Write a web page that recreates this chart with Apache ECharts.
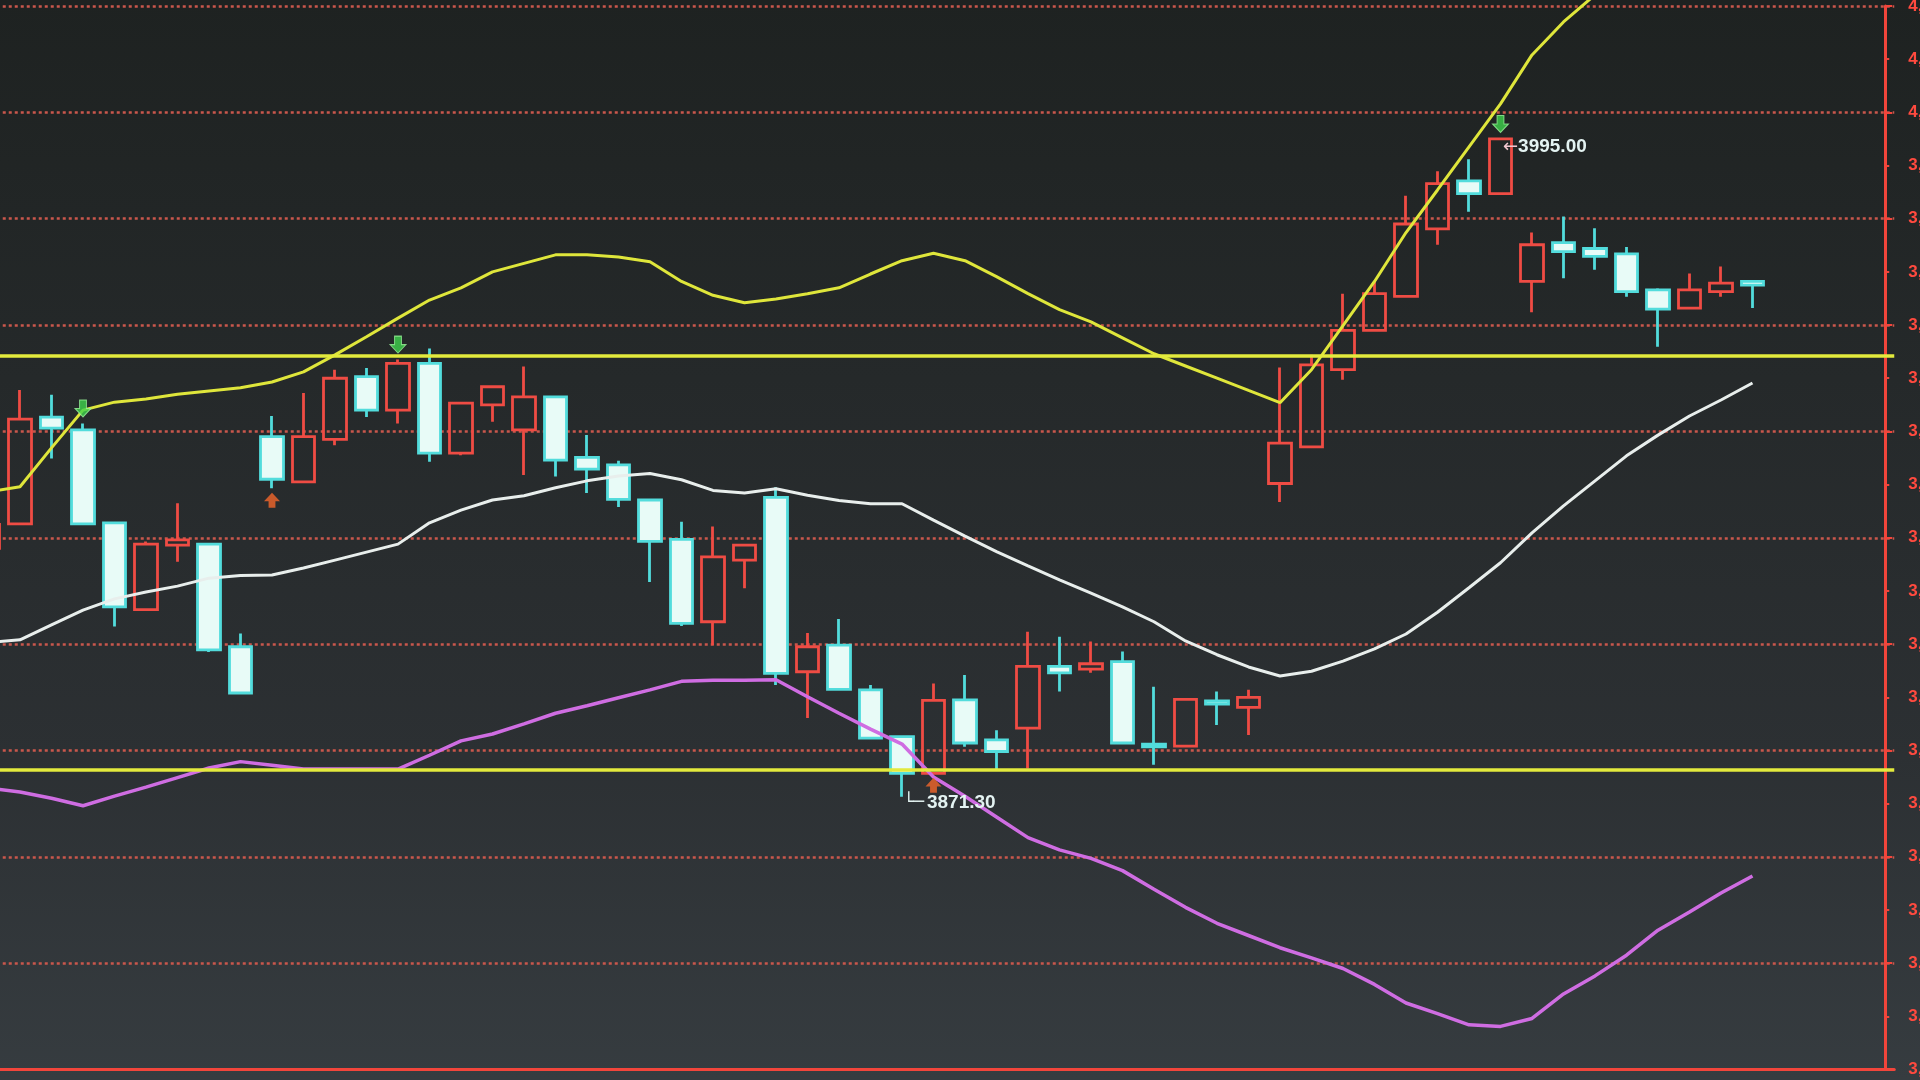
<!DOCTYPE html>
<html><head><meta charset="utf-8">
<script src="https://cdn.jsdelivr.net/npm/echarts@6/dist/echarts.min.js"></script>
<style>
html,body{margin:0;padding:0;width:1920px;height:1080px;overflow:hidden;background:#26292b;}
#c{width:1920px;height:1080px;background:linear-gradient(180deg,#1e2221 0%,#25292a 35%,#2c3033 70%,#363c40 100%);}
</style></head><body><div id="c"></div>
<script>
// category slots (no visible x labels); slot 0 is the partially visible bar at the left edge
const categories = Array.from({length: 61}, (_, i) => String(i + 1));

// candles: [open, close, low, high]
const ohlc = [
  [3918.0,3922.5,3916.0,3925.0],
  [3922.6,3942.3,3922.6,3947.8],
  [3942.7,3940.6,3934.9,3946.9],
  [3940.3,3922.6,3922.6,3941.5],
  [3922.8,3907.0,3903.3,3922.8],
  [3906.5,3918.8,3906.5,3919.3],
  [3918.6,3919.6,3915.5,3926.5],
  [3918.8,3898.9,3898.5,3918.8],
  [3899.5,3890.8,3890.8,3902.0],
  [3939.0,3931.0,3929.3,3942.9],
  [3930.5,3939.0,3930.5,3947.2],
  [3938.5,3950.0,3937.4,3951.6],
  [3950.3,3944.0,3942.7,3951.9],
  [3944.0,3952.8,3941.5,3953.5],
  [3952.8,3935.9,3934.3,3955.6],
  [3935.9,3945.3,3935.5,3945.3],
  [3945.0,3948.4,3941.8,3948.4],
  [3940.3,3946.5,3931.8,3952.2],
  [3946.5,3934.6,3931.5,3946.5],
  [3935.1,3932.9,3928.4,3939.3],
  [3933.7,3927.2,3925.8,3934.5],
  [3927.1,3919.3,3911.7,3927.1],
  [3919.7,3903.9,3903.4,3923.0],
  [3904.2,3916.4,3899.8,3922.1],
  [3915.8,3918.6,3910.5,3918.6],
  [3927.6,3894.5,3892.3,3929.5],
  [3894.8,3899.5,3886.1,3902.1],
  [3899.8,3891.5,3891.5,3904.7],
  [3891.4,3882.3,3882.3,3892.3],
  [3882.6,3875.7,3871.3,3882.6],
  [3875.7,3889.4,3875.7,3892.6],
  [3889.5,3881.4,3880.7,3894.2],
  [3882.0,3879.8,3876.3,3883.8],
  [3884.2,3895.8,3876.6,3902.3],
  [3895.8,3894.6,3891.1,3901.4],
  [3895.3,3896.3,3894.6,3900.5],
  [3896.7,3881.4,3881.4,3898.6],
  [3881.2,3880.7,3877.3,3892.0],
  [3880.8,3889.6,3880.8,3889.6],
  [3889.3,3888.7,3884.8,3891.1],
  [3888.1,3890.0,3882.9,3891.4],
  [3930.2,3937.8,3926.7,3952.0],
  [3937.1,3952.5,3937.1,3954.4],
  [3951.6,3959.0,3949.7,3965.9],
  [3959.0,3965.9,3959.0,3968.2],
  [3965.4,3979.0,3965.4,3984.3],
  [3978.1,3986.6,3975.1,3988.9],
  [3987.1,3984.7,3981.3,3991.2],
  [3984.7,3995.0,3984.7,3995.0],
  [3968.2,3975.1,3962.4,3977.4],
  [3975.5,3973.8,3968.8,3980.4],
  [3974.4,3972.9,3970.4,3978.2],
  [3973.4,3966.3,3965.3,3974.7],
  [3966.6,3963.0,3955.9,3966.9],
  [3963.2,3966.6,3963.2,3969.7],
  [3966.3,3967.9,3965.3,3971.0],
  [3968.2,3967.5,3963.2,3968.2]
];

// Bollinger bands
const upperBand = [3928.6,3929.6,3936.9,3944.0,3945.5,3946.1,3947.0,3947.6,3948.2,3949.3,3951.2,3954.4,3957.8,3961.3,3964.7,3967.0,3970.0,3971.6,3973.2,3973.2,3972.8,3971.9,3968.2,3965.6,3964.2,3964.9,3965.9,3967.0,3969.6,3972.1,3973.5,3972.1,3969.1,3965.9,3962.9,3960.6,3957.6,3954.6,3952.3,3950.0,3947.7,3945.4,3951.6,3959.9,3968.2,3977.4,3985.4,3993.5,4001.6,4010.8,4017.0,4022.1,4025.8,4029.0,4031.5,4033.4,4034.7];
const midBand = [3900.3,3900.8,3903.6,3906.4,3908.5,3909.8,3910.9,3912.4,3912.9,3913.0,3914.3,3915.8,3917.3,3918.8,3922.8,3925.2,3927.1,3927.9,3929.4,3930.7,3931.6,3932.1,3930.9,3928.9,3928.4,3929.2,3928.0,3927.0,3926.4,3926.4,3923.3,3920.3,3917.4,3914.7,3912.1,3909.6,3907.0,3904.2,3900.6,3898.0,3895.7,3894.0,3894.9,3896.8,3899.1,3901.9,3906.0,3910.6,3915.3,3920.9,3926.0,3930.7,3935.4,3939.3,3942.9,3945.9,3949.1];
const lowerBand = [3872.9,3872.2,3871.0,3869.6,3871.4,3873.1,3874.9,3876.7,3877.9,3877.2,3876.5,3876.5,3876.5,3876.5,3879.1,3881.8,3883.1,3885.0,3887.0,3888.4,3889.9,3891.4,3893.0,3893.2,3893.2,3893.3,3890.1,3887.0,3884.0,3881.2,3875.0,3871.4,3867.5,3863.6,3861.3,3859.7,3857.4,3853.9,3850.5,3847.5,3845.2,3842.9,3841.0,3839.0,3836.0,3832.5,3830.5,3828.4,3828.1,3829.6,3834.2,3837.6,3841.5,3846.2,3849.6,3853.2,3856.4];

// signal arrows (category slot indices)
const sellSignals = [3, 13, 48];
const buySignals = [9, 30];
// horizontal support / resistance lines
const hLines = [3954.2, 3876.3];
// extreme price tags
const highTag = {idx: 48, value: 3995.00};
const lowTag = {idx: 29, value: 3871.30};
// price axis
const yMin = 3820, yMax = 4020, gridStep = 20, labelStep = 10;

const RED = '#ef4c44', CYAN = '#52dcdc', AXIS = '#f2453b';
const chart = echarts.init(document.getElementById('c'), null, {renderer: 'canvas'});

const downArrow = 'path://M4,0 L10,0 L10,8 L14,8 L7,16 L0,8 L4,8 Z';
const upArrow = 'path://M7,0 L14,8 L10,8 L10,14 L4,14 L4,8 L0,8 Z';

chart.setOption({
  backgroundColor: 'transparent',
  animation: false,
  grid: {left: -27.25, right: 25.75, top: 6, bottom: 10.5, containLabel: false, outerBoundsMode: 'none'},
  xAxis: {
    type: 'category', data: categories, boundaryGap: true,
    axisLine: {show: true, onZero: false, lineStyle: {color: AXIS, width: 3}},
    axisTick: {show: false}, axisLabel: {show: false}, splitLine: {show: false}
  },
  yAxis: [
    {
      type: 'value', position: 'right', offset: -9, min: yMin, max: yMax, interval: gridStep,
      axisLine: {show: true, lineStyle: {color: AXIS, width: 3}},
      axisTick: {show: true, length: 7, lineStyle: {color: AXIS, width: 2}},
      axisLabel: {show: false},
      splitLine: {show: true, lineStyle: {color: '#c9574c', width: 2.5, type: [3, 3]}}
    },
    {
      type: 'value', position: 'right', offset: -9, min: yMin, max: yMax, interval: labelStep,
      axisLine: {show: false},
      axisTick: {show: true, length: 4, lineStyle: {color: AXIS, width: 2}},
      axisLabel: {show: true, margin: 23, color: '#ff4a3f', fontSize: 17, fontWeight: 'bold', fontFamily: 'Liberation Sans'},
      splitLine: {show: false}
    }
  ],
  series: [
    {
      type: 'candlestick', data: ohlc, barWidth: 23, z: 2,
      itemStyle: {color: 'rgba(0,0,0,0)', color0: '#e8fbf7', borderColor: RED, borderColor0: CYAN, borderWidth: 2.8},
      markPoint: {
        symbol: 'circle', symbolSize: 1, itemStyle: {color: 'rgba(0,0,0,0)'}, silent: true,
        data: [
          {coord: [categories[highTag.idx], highTag.value],
           label: {show: true, position: 'right', distance: 0, offset: [2, 8],
             formatter: '{a|←}{b|' + highTag.value.toFixed(2) + '}',
             rich: {a: {color: '#f2c6cf', fontSize: 18, fontFamily: 'DejaVu Sans'},
                    b: {color: '#e4f3f2', fontSize: 19, fontWeight: 'bold', fontFamily: 'Liberation Sans'}}}},
          {coord: [categories[lowTag.idx], lowTag.value],
           label: {show: true, position: 'right', distance: 0, offset: [1, 6],
             formatter: '{a|└─}{b|' + lowTag.value.toFixed(2) + '}',
             rich: {a: {color: '#e4f3f2', fontSize: 17, fontFamily: 'DejaVu Sans Mono'},
                    b: {color: '#e4f3f2', fontSize: 19, fontWeight: 'bold', fontFamily: 'Liberation Sans', padding: [0, 0, 0, 3]}}}}
        ]
      }
    },
    {
      type: 'line', data: upperBand, symbol: 'none', clip: false, z: 4, smooth: false,
      lineStyle: {color: '#dfe63b', width: 3},
      markLine: {
        silent: true, symbol: ['none', 'none'], label: {show: false},
        lineStyle: {color: '#e3ea3d', width: 3.5, type: 'solid'},
        data: hLines.map(v => ({yAxis: v}))
      }
    },
    {type: 'line', data: midBand, symbol: 'none', z: 4, lineStyle: {color: '#e8eeec', width: 3}},
    {type: 'line', data: lowerBand, symbol: 'none', z: 4, lineStyle: {color: '#cf6de2', width: 3.5}},
    {
      type: 'scatter', z: 5, symbol: downArrow, symbolSize: [16, 17], symbolOffset: [0, -15],
      itemStyle: {color: '#3ed24c', borderColor: '#9af29a', borderWidth: 1},
      data: sellSignals.map(i => [categories[i], ohlc[i][3]])
    },
    {
      type: 'scatter', z: 5, symbol: upArrow, symbolSize: [16, 15], symbolOffset: [0, 12],
      itemStyle: {color: '#f2662a'},
      data: buySignals.map(i => [categories[i], ohlc[i][2]])
    }
  ]
});
</script></body></html>
